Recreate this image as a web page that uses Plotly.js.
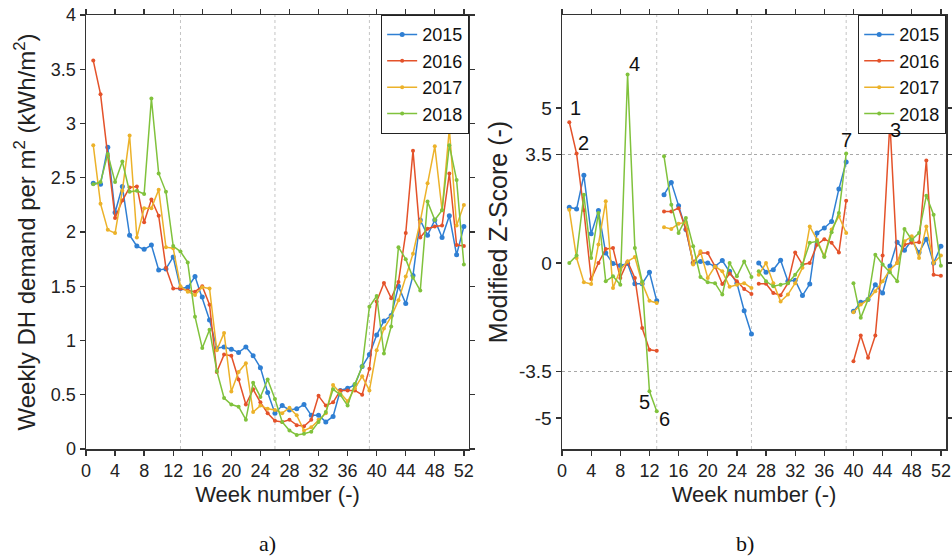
<!DOCTYPE html>
<html>
<head>
<meta charset="utf-8">
<script src="https://cdn.plot.ly/plotly-3.0.1.min.js"></script>
<style>html,body{margin:0;padding:0;background:#fff;}#chart{width:952px;height:556px;}</style>
</head>
<body>
<div id="chart"></div>
<script>
// ---- data ----
const weeks = Array.from({length: 52}, (_, i) => i + 1);
const years = ['2015', '2016', '2017', '2018'];

// a) Weekly DH demand per m2 (kWh/m2)
const demand2015 = [2.45,2.44,2.78,2.18,2.42,1.97,1.87,1.84,1.88,1.65,1.66,1.77,1.48,1.49,1.59,1.40,1.19,0.93,0.94,0.92,0.89,0.94,0.86,0.75,0.52,0.33,0.40,0.36,0.37,0.41,0.31,0.31,0.25,0.30,0.54,0.56,0.59,0.76,0.87,1.05,1.18,1.23,1.50,1.34,1.60,2.11,1.97,2.11,1.95,2.15,1.79,2.05];
const demand2016 = [3.58,3.27,2.70,2.13,2.29,2.41,2.42,2.09,2.30,2.15,1.67,1.48,1.48,1.46,1.45,1.50,1.33,0.71,0.87,0.86,0.64,0.41,0.55,0.43,0.33,0.26,0.25,0.27,0.22,0.21,0.27,0.49,0.40,0.43,0.54,0.54,0.54,0.50,0.74,1.36,1.53,1.39,1.54,1.99,2.75,1.95,2.03,2.05,2.06,2.54,1.88,1.87];
const demand2017 = [2.80,2.26,2.02,1.99,2.38,2.89,1.95,2.22,2.22,2.39,1.86,1.85,1.50,1.45,1.42,1.49,1.48,0.91,1.07,0.53,0.71,0.79,0.34,0.40,0.37,0.36,0.33,0.38,0.31,0.17,0.20,0.27,0.33,0.59,0.51,0.44,0.56,0.67,0.54,0.91,1.11,1.22,1.37,1.59,1.80,2.10,2.45,2.79,2.20,2.95,2.06,2.25];
const demand2018 = [2.44,2.46,2.72,2.46,2.65,2.37,2.38,2.35,3.23,2.54,2.37,1.87,1.82,1.72,1.22,0.93,1.10,0.72,0.47,0.41,0.39,0.27,0.61,0.48,0.64,0.46,0.25,0.17,0.13,0.14,0.16,0.25,0.34,0.55,0.50,0.40,0.60,0.76,1.31,1.41,0.88,1.13,1.86,1.75,1.58,1.46,2.28,2.11,2.20,2.80,2.48,1.70];

// b) Modified Z-Score (-), computed per quarter (weeks 1-13, 14-26, 27-39, 40-52)
const zscore2015 = [1.80,1.74,2.83,0.94,1.69,0.32,-0.02,-0.08,-0.02,-0.67,-0.67,-0.30,-1.22, 2.20,2.60,1.85,1.08,0.00,0.05,0.00,-0.11,0.08,-0.27,-0.65,-1.54,-2.29, 0.00,-0.30,-0.22,0.09,-0.59,-0.56,-1.05,-0.68,0.97,1.13,1.34,2.39,3.26, -1.56,-1.27,-1.18,-0.70,-0.97,-0.10,0.67,0.41,0.73,0.34,0.77,0.00,0.54];
const zscore2016 = [4.54,3.53,1.70,-0.52,0.00,0.45,0.48,-0.48,0.05,-0.48,-2.10,-2.80,-2.83, 1.66,1.66,1.77,1.08,0.02,0.32,0.32,-0.11,-0.68,-0.34,-0.59,-0.84,-1.00, -0.67,-0.67,-0.97,-1.04,-0.65,0.34,-0.05,0.00,0.59,0.77,0.65,0.34,2.01, -3.17,-2.34,-3.06,-2.34,0.24,4.54,0.00,0.59,0.65,0.67,3.31,-0.38,-0.41];
const zscore2017 = [1.72,0.16,-0.62,-0.68,0.60,1.99,-0.81,-0.22,0.05,0.19,-0.65,-1.22,-1.29, 1.15,1.10,1.27,1.31,-0.05,0.38,-0.48,-0.11,-0.27,-0.77,-0.70,-0.65,-0.81, -0.38,0.00,-0.65,-1.24,-1.02,-0.65,-0.15,1.18,0.75,0.22,1.08,1.51,0.97, -1.59,-1.34,-1.18,-0.91,-0.59,-0.22,0.00,0.70,0.86,0.16,1.18,0.00,0.24];
const zscore2018 = [0.00,0.24,2.20,0.16,1.61,-0.59,-0.43,-0.70,6.08,0.48,-0.60,-4.14,-4.78, 3.44,1.88,0.97,1.45,0.54,-0.45,-0.62,-0.65,-1.02,0.00,-0.43,0.05,-0.45, -0.27,-0.59,-0.75,-0.70,-0.65,-0.38,-0.05,0.65,0.70,0.19,0.99,1.61,3.53, -0.65,-1.77,-1.18,0.27,-0.05,-0.30,-0.59,1.10,0.75,0.97,2.17,1.56,-0.09];

const quarterEnds = [13, 26, 39];
const outlierThreshold = 3.5;
const outlierLabels = ['1', '2', '3', '4', '5', '6', '7'];
const outlierWeeks  = [1, 2, 45, 9, 12, 13, 39];
const outlierYears  = ['2016', '2016', '2016', '2018', '2018', '2018', '2018'];

const xTicks = [0,4,8,12,16,20,24,28,32,36,40,44,48,52];
const yTicksA = [0,0.5,1,1.5,2,2.5,3,3.5,4];
const yTicksB = [-5,-3.5,0,3.5,5];

// ---- styling ----
const colors = ['#2f7fd3', '#e4522a', '#ecb22a', '#80c23c'];
const markerSizes = [5, 4, 4, 4];
const FONT = 'Liberation Sans, Arial, sans-serif';
const SERIF = 'Liberation Serif, Times New Roman, serif';

// split series into quarterly segments (null gaps)
function segmented(xs, ys) {
  const X = [], Y = [];
  xs.forEach((x, i) => {
    X.push(x); Y.push(ys[i]);
    if (quarterEnds.includes(x)) { X.push(null); Y.push(null); }
  });
  return {x: X, y: Y};
}

const demand = [demand2015, demand2016, demand2017, demand2018];
const zscores = [zscore2015, zscore2016, zscore2017, zscore2018];
const traces = [];
years.forEach((yr, i) => {
  traces.push({
    x: weeks, y: demand[i], name: yr, type: 'scatter', mode: 'lines+markers',
    xaxis: 'x', yaxis: 'y', legend: 'legend',
    line: {color: colors[i], width: 1.5}, marker: {color: colors[i], size: markerSizes[i]}
  });
});
years.forEach((yr, i) => {
  const s = segmented(weeks, zscores[i]);
  traces.push({
    x: s.x, y: s.y, name: yr, type: 'scatter', mode: 'lines+markers', connectgaps: false,
    xaxis: 'x2', yaxis: 'y2', legend: 'legend2',
    line: {color: colors[i], width: 1.5}, marker: {color: colors[i], size: markerSizes[i]}
  });
});

// label offsets in px relative to the outlier point (x right, y up)
const labelShifts = [[6, 14], [7, 11], [6, -8], [7, 11], [-5, -11], [8, -8], [0, 14]];
const annotations = outlierLabels.map((t, k) => {
  const yi = years.indexOf(outlierYears[k]);
  const wk = outlierWeeks[k];
  return {
    text: t, x: wk, y: zscores[yi][wk - 1], xref: 'x2', yref: 'y2', showarrow: false,
    xshift: labelShifts[k][0], yshift: labelShifts[k][1],
    font: {family: FONT, size: 20, color: '#111'}
  };
});
annotations.push({text: 'a)', xref: 'paper', yref: 'paper', x: 0.2116, y: -0.2166, xanchor: 'center', yanchor: 'middle',
  showarrow: false, font: {family: SERIF, size: 22, color: '#111'}});
annotations.push({text: 'b)', xref: 'paper', yref: 'paper', x: 0.766, y: -0.2166, xanchor: 'center', yanchor: 'middle',
  showarrow: false, font: {family: SERIF, size: 22, color: '#111'}});

const shapes = [];
quarterEnds.forEach(q => {
  ['x', 'x2'].forEach((xa, j) => {
    shapes.push({type: 'line', xref: xa, yref: j ? 'y2 domain' : 'y domain', x0: q, x1: q, y0: 0, y1: 1,
      line: {color: '#c4c4c4', width: 1, dash: 'dot'}, layer: 'below'});
  });
});
[outlierThreshold, -outlierThreshold].forEach(v => {
  shapes.push({type: 'line', xref: 'x2 domain', yref: 'y2', x0: 0, x1: 1, y0: v, y1: v,
    line: {color: '#a8a8a8', width: 1, dash: 'dot'}, layer: 'below'});
});

const axisCommon = {
  showgrid: false, zeroline: false, showline: true, linecolor: '#333', linewidth: 1.5,
  mirror: 'ticks', ticks: 'outside', ticklen: 5, tickwidth: 1.3, tickcolor: '#333'
};
const xCommon = Object.assign({}, axisCommon, {
  range: [0, 52.7], tickvals: xTicks, ticktext: xTicks.map(String),
  tickfont: {family: FONT, size: 18, color: '#222'},
  title: {text: 'Week number (-)', font: {family: FONT, size: 22, color: '#222'}, standoff: 6}
});

const legendCommon = {xanchor: 'right', y: 1, yanchor: 'top', bgcolor: '#fff', bordercolor: '#222', borderwidth: 1.2,
  font: {family: FONT, size: 18, color: '#111'}, tracegroupgap: 0, itemwidth: 30};

const layout = {
  width: 952, height: 556,
  margin: {l: 86, r: 6, t: 15, b: 107},
  paper_bgcolor: '#fff', plot_bgcolor: '#fff',
  showlegend: true,
  xaxis: Object.assign({}, xCommon, {domain: [0, 0.4453], anchor: 'y'}),
  xaxis2: Object.assign({}, xCommon, {domain: [0.5535, 1], anchor: 'y2'}),
  yaxis: Object.assign({}, axisCommon, {
    domain: [0, 1], anchor: 'x', range: [0, 4], tickvals: yTicksA, ticktext: yTicksA.map(String),
    tickfont: {family: FONT, size: 18, color: '#222'},
    title: {text: 'Weekly DH demand per m<sup>2</sup> (kWh/m<sup>2</sup>)', font: {family: FONT, size: 24, color: '#222'}, standoff: 8}
  }),
  yaxis2: Object.assign({}, axisCommon, {
    domain: [0, 1], anchor: 'x2', range: [-6, 8], tickvals: yTicksB, ticktext: yTicksB.map(String),
    tickfont: {family: FONT, size: 19, color: '#222'},
    title: {text: 'Modified Z-Score (-)', font: {family: FONT, size: 25, color: '#222'}, standoff: 4}
  }),
  legend: Object.assign({}, legendCommon, {x: 0.4453}),
  legend2: Object.assign({}, legendCommon, {x: 1}),
  shapes: shapes,
  annotations: annotations
};

Plotly.newPlot('chart', traces, layout, {displayModeBar: false, staticPlot: true});
</script>
</body>
</html>
